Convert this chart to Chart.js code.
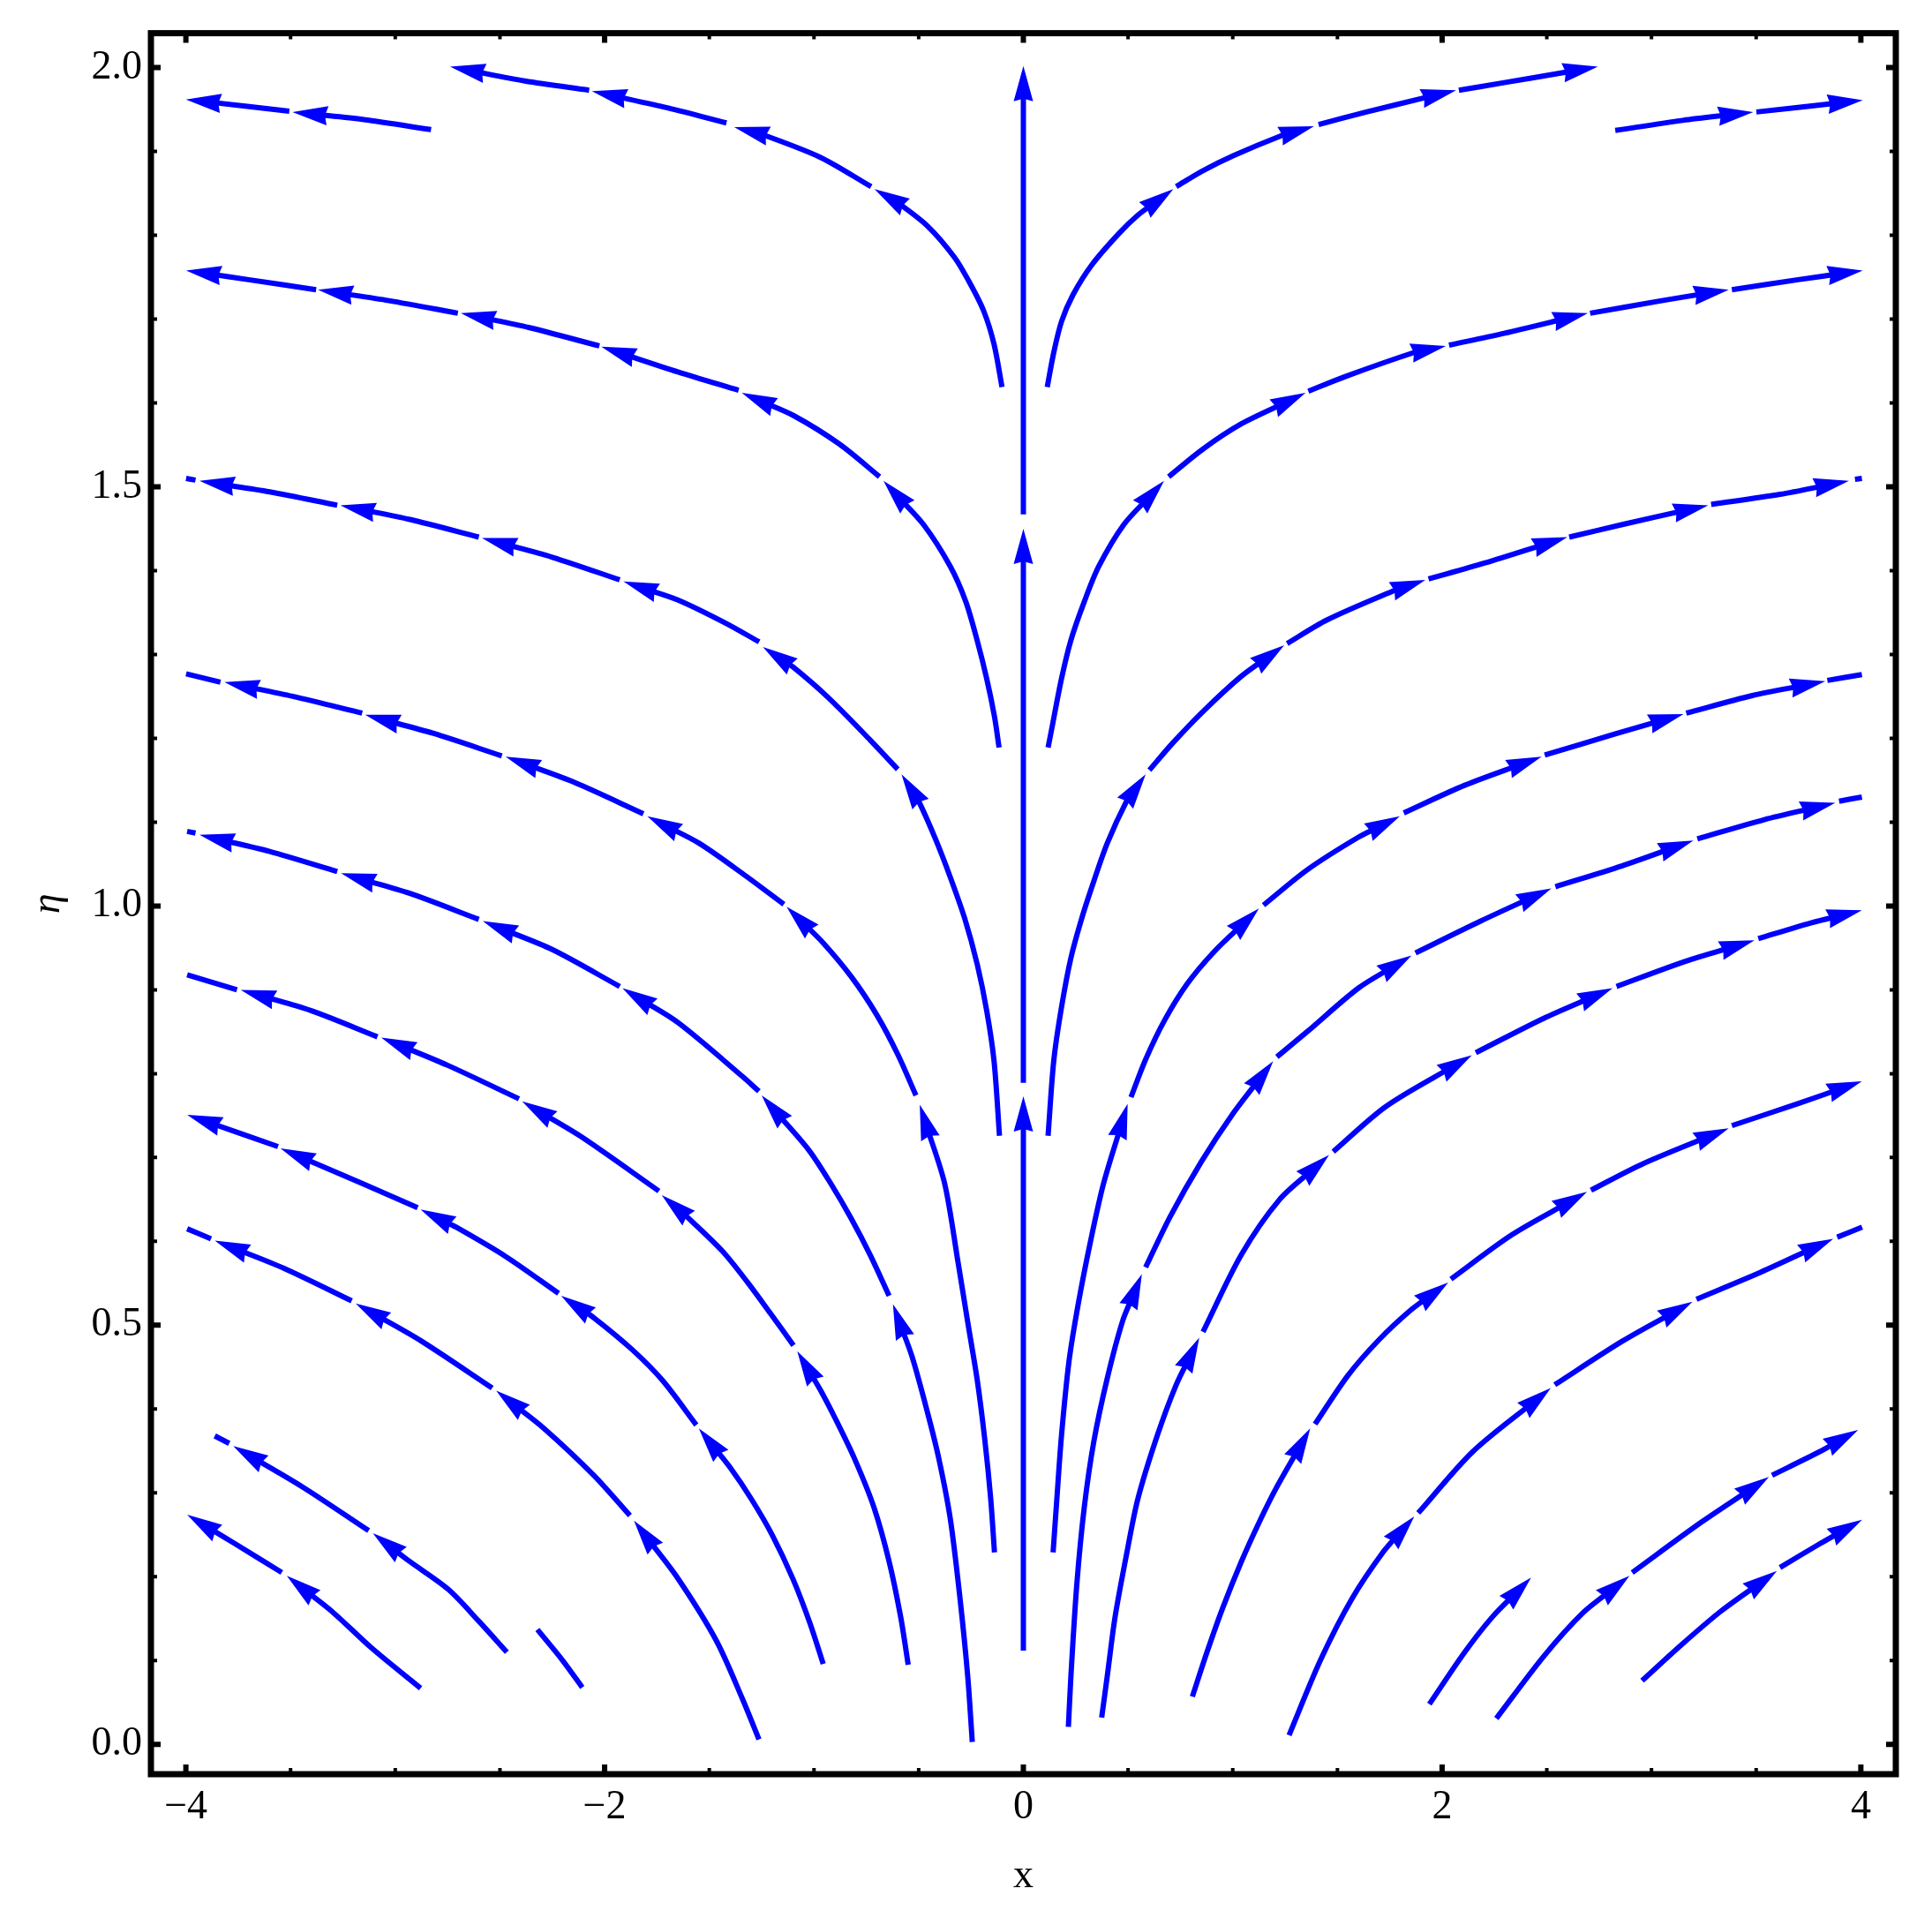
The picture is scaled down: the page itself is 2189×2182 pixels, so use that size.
<!DOCTYPE html>
<html lang="en">
<head>
<meta charset="UTF-8">
<title>Stream plot</title>
<script src="https://cdn.jsdelivr.net/npm/chart.js@4.4.0/dist/chart.umd.min.js"></script>
<style>
  html, body { margin: 0; padding: 0; background: #ffffff; }
  #wrap { width: 2189px; height: 2182px; }
</style>
</head>
<body>
<div id="wrap"><canvas id="grafico"></canvas></div>
<script>
// axis ticks
const xTicks = [-4, -2, 0, 2, 4];
const xTickLabels = ['\u22124', '\u22122', '0', '2', '4'];
const xMinorTicks = [-4, -3.5, -3, -2.5, -2, -1.5, -1, -0.5, 0, 0.5, 1, 1.5, 2, 2.5, 3, 3.5, 4];
const yTicks = [0, 0.5, 1.0, 1.5, 2.0];
const yTickLabels = ['0.0', '0.5', '1.0', '1.5', '2.0'];
const yMinorTicks = [0, 0.1, 0.2, 0.3, 0.4, 0.5, 0.6, 0.7, 0.8, 0.9, 1.0,
                     1.1, 1.2, 1.3, 1.4, 1.5, 1.6, 1.7, 1.8, 1.9, 2.0];

// streamlines as [x, eta] in flow direction.
// every line is split in pieces, a piece ends with an arrowhead
const centerLine = [
  [[0, 0.112], [0, 0.773]],
  [[0, 0.789], [0, 1.450]],
  [[0, 1.467], [0, 2.002]]
];

const rightLines = [
  [[[0.114,1.619],[0.145,1.660],[0.182,1.697],[0.237,1.729],[0.328,1.765],[0.456,1.802],[0.547,1.824],[0.716,1.855]],
   [[0.730,1.858],[0.858,1.877],[1.004,1.895],[1.224,1.918],[1.388,1.930]],
   [[1.410,1.932],[1.638,1.947],[1.901,1.963],[2.067,1.973]],
   [[2.080,1.973],[2.296,1.982],[2.579,1.994],[2.744,2.001]]],
  [[[2.827,1.925],[3.150,1.937],[3.486,1.947]],
   [[3.501,1.947],[4.009,1.961]]],
  [[[0.118,1.189],[0.136,1.212],[0.182,1.271],[0.227,1.317],[0.291,1.363],[0.360,1.405],[0.480,1.455],[0.672,1.507]],
   [[0.694,1.512],[0.858,1.545],[1.041,1.575],[1.348,1.612]],
   [[1.361,1.614],[1.543,1.632],[1.864,1.660],[2.018,1.668]],
   [[2.033,1.669],[2.296,1.683],[2.696,1.707]],
   [[2.707,1.707],[3.049,1.722],[3.369,1.735]],
   [[3.384,1.735],[3.700,1.747],[4.009,1.758]]],
  [[[0.118,0.726],[0.145,0.815],[0.182,0.879],[0.227,0.938],[0.282,0.988],[0.337,1.030],[0.401,1.075],[0.493,1.125],[0.584,1.157]],
   [[0.602,1.162],[0.712,1.194],[0.858,1.232],[1.041,1.274],[1.246,1.311]],
   [[1.260,1.313],[1.449,1.341],[1.769,1.376],[1.920,1.389]],
   [[1.935,1.390],[2.202,1.409],[2.598,1.440]],
   [[2.607,1.440],[2.861,1.455],[3.271,1.478]],
   [[3.285,1.479],[3.614,1.491],[3.943,1.507]],
   [[3.972,1.509],[4.005,1.510]]],
  [[[0.142,0.229],[0.160,0.293],[0.182,0.368],[0.218,0.457],[0.264,0.528],[0.319,0.598],[0.383,0.669],[0.498,0.764]],
   [[0.514,0.772],[0.584,0.817],[0.675,0.864],[0.785,0.908],[0.913,0.946],[1.125,0.997]],
   [[1.147,1.001],[1.355,1.043],[1.600,1.082],[1.798,1.107]],
   [[1.817,1.111],[2.108,1.144],[2.475,1.178]],
   [[2.490,1.180],[2.824,1.205],[3.153,1.229]],
   [[3.166,1.230],[3.482,1.251],[3.830,1.268]],
   [[3.840,1.269],[4.005,1.276]]],
  [[[0.215,0.021],[0.227,0.081],[0.255,0.190],[0.291,0.283],[0.337,0.362],[0.401,0.437],[0.474,0.505],[0.566,0.561]],
   [[0.584,0.569],[0.700,0.629],[0.850,0.695],[1.000,0.752],[1.193,0.815]],
   [[1.211,0.820],[1.355,0.850],[1.600,0.902],[1.854,0.941]],
   [[1.873,0.944],[2.184,0.982],[2.522,1.021]],
   [[2.541,1.023],[2.861,1.048],[3.200,1.078]],
   [[3.219,1.080],[3.539,1.103],[3.878,1.123]],
   [[3.896,1.125],[4.005,1.130]]],
  [[[0.374,0.032],[0.401,0.082],[0.438,0.152],[0.493,0.227],[0.547,0.293],[0.639,0.368],[0.730,0.429],[0.840,0.485]],
   [[0.858,0.492],[1.041,0.584],[1.224,0.650],[1.460,0.703]],
   [[1.480,0.707],[1.732,0.761],[2.142,0.822]],
   [[2.161,0.825],[2.485,0.866],[2.814,0.902]],
   [[2.833,0.904],[3.162,0.934],[3.492,0.959]],
   [[3.510,0.961],[3.765,0.980],[4.005,0.995]]],
  [[[0.807,0.057],[0.877,0.110],[0.951,0.162],[1.041,0.218],[1.132,0.268],[1.206,0.305],[1.370,0.377]],
   [[1.393,0.382],[1.550,0.440],[1.700,0.483],[1.850,0.518],[2.029,0.551]],
   [[2.042,0.555],[2.334,0.608],[2.692,0.659]],
   [[2.711,0.661],[2.955,0.692],[3.369,0.735]],
   [[3.384,0.738],[3.708,0.765],[4.005,0.791]]],
  [[[1.269,0.011],[1.420,0.101],[1.570,0.174],[1.720,0.230],[1.867,0.272]],
   [[1.886,0.276],[2.146,0.349],[2.519,0.425]],
   [[2.538,0.429],[2.861,0.481],[3.196,0.528]],
   [[3.215,0.531],[3.520,0.563],[3.868,0.603]],
   [[3.887,0.605],[4.006,0.617]]],
  [[[1.939,0.048],[2.108,0.110],[2.240,0.152],[2.425,0.199]]],
  [[[2.259,0.031],[2.485,0.105],[2.673,0.157],[2.895,0.201]],
   [[2.908,0.205],[3.238,0.265],[3.561,0.319]],
   [[3.576,0.321],[3.802,0.349],[3.987,0.375]]],
  [[[2.955,0.076],[3.144,0.119],[3.332,0.159],[3.599,0.207]],
   [[3.614,0.211],[3.802,0.239],[4.006,0.268]]]
];
// false = last piece is a plain dash, no arrowhead
const rightLastArrow = [true, true, true, false, false, false, true, true, false, true, true, true];

const leftLines = [
  [[[-0.102,1.619],[-0.140,1.670],[-0.190,1.710],[-0.260,1.745],[-0.330,1.774],[-0.458,1.811],[-0.595,1.838],[-0.711,1.855]],
   [[-0.727,1.858],[-0.970,1.893],[-1.244,1.920],[-1.381,1.929]],
   [[-1.418,1.934],[-1.700,1.952],[-2.061,1.972]],
   [[-2.074,1.973],[-2.381,1.984],[-2.738,2.001]]],
  [[[-2.829,1.926],[-3.150,1.938],[-3.491,1.947]],
   [[-3.506,1.948],[-4.000,1.962]]],
  [[[-0.116,1.189],[-0.138,1.226],[-0.175,1.271],[-0.221,1.317],[-0.275,1.363],[-0.349,1.405],[-0.477,1.455],[-0.668,1.507]],
   [[-0.687,1.512],[-0.879,1.551],[-1.098,1.585],[-1.345,1.612]],
   [[-1.360,1.615],[-1.650,1.637],[-2.016,1.667]],
   [[-2.025,1.668],[-2.363,1.690],[-2.687,1.707]],
   [[-2.701,1.707],[-3.030,1.722],[-3.369,1.735]],
   [[-3.378,1.735],[-3.700,1.747],[-3.999,1.758]]],
  [[[-0.114,0.726],[-0.140,0.815],[-0.175,0.875],[-0.220,0.930],[-0.280,0.985],[-0.350,1.035],[-0.420,1.080],[-0.500,1.125],[-0.582,1.157]],
   [[-0.600,1.163],[-0.732,1.198],[-0.934,1.249],[-1.100,1.285],[-1.244,1.309]],
   [[-1.262,1.315],[-1.427,1.338],[-1.650,1.365],[-1.910,1.387]],
   [[-1.928,1.389],[-2.250,1.416],[-2.586,1.439]],
   [[-2.601,1.440],[-2.930,1.461],[-3.262,1.478]],
   [[-3.277,1.478],[-3.600,1.494],[-3.935,1.507]],
   [[-3.954,1.508],[-3.999,1.510]]],
  [[[-0.138,0.229],[-0.156,0.293],[-0.184,0.363],[-0.220,0.434],[-0.266,0.504],[-0.312,0.575],[-0.376,0.669],[-0.495,0.763]],
   [[-0.513,0.774],[-0.600,0.823],[-0.700,0.870],[-0.820,0.915],[-0.960,0.957],[-1.131,0.999]],
   [[-1.144,1.002],[-1.343,1.039],[-1.550,1.075],[-1.796,1.107]],
   [[-1.815,1.110],[-2.150,1.148],[-2.473,1.178]],
   [[-2.491,1.179],[-2.820,1.206],[-3.144,1.228]],
   [[-3.158,1.230],[-3.490,1.250],[-3.816,1.267]],
   [[-3.835,1.267],[-3.999,1.277]]],
  [[[-0.244,0.003],[-0.266,0.082],[-0.303,0.175],[-0.349,0.269],[-0.403,0.340],[-0.458,0.396],[-0.531,0.462],[-0.623,0.525]],
   [[-0.641,0.535],[-0.732,0.584],[-0.824,0.628],[-0.915,0.667],[-1.025,0.709],[-1.250,0.774]],
   [[-1.263,0.779],[-1.343,0.797],[-1.650,0.861],[-1.915,0.902]],
   [[-1.928,0.904],[-2.250,0.948],[-2.582,0.982]],
   [[-2.601,0.984],[-2.930,1.015],[-3.259,1.039]],
   [[-3.277,1.041],[-3.600,1.065],[-3.935,1.085]],
   [[-3.954,1.087],[-3.994,1.089]]],
  [[[-0.550,0.095],[-0.586,0.152],[-0.641,0.218],[-0.714,0.283],[-0.805,0.340],[-0.897,0.388],[-0.970,0.423],[-1.080,0.469]],
   [[-1.098,0.476],[-1.208,0.514],[-1.317,0.551],[-1.440,0.589],[-1.614,0.631],[-1.727,0.655]],
   [[-1.741,0.660],[-2.107,0.724],[-2.394,0.767]],
   [[-2.409,0.770],[-2.750,0.810],[-3.067,0.843]],
   [[-3.085,0.844],[-3.400,0.875],[-3.738,0.900]],
   [[-3.756,0.900],[-3.994,0.918]]],
  [[[-0.956,0.096],[-1.020,0.145],[-1.100,0.197],[-1.200,0.250],[-1.300,0.293],[-1.400,0.330],[-1.550,0.377]],
   [[-1.562,0.381],[-1.723,0.434],[-1.869,0.471],[-2.052,0.509],[-2.208,0.535]],
   [[-2.220,0.538],[-2.473,0.582],[-2.710,0.617],[-2.879,0.638]],
   [[-2.893,0.640],[-3.158,0.669],[-3.548,0.711]],
   [[-3.560,0.713],[-3.994,0.751]]],
  [[[-1.263,0.006],[-1.343,0.055],[-1.467,0.124],[-1.650,0.198],[-1.860,0.267]],
   [[-1.879,0.273],[-2.052,0.321],[-2.290,0.377],[-2.518,0.422]],
   [[-2.537,0.425],[-2.875,0.481],[-3.189,0.526]],
   [[-3.208,0.529],[-3.533,0.568],[-3.862,0.601]],
   [[-3.880,0.603],[-3.994,0.615]]],
  [[[-2.107,0.068],[-2.200,0.100],[-2.321,0.137]]],
  [[[-2.467,0.110],[-2.601,0.147],[-2.747,0.185],[-2.930,0.218],[-3.107,0.252]],
   [[-3.127,0.255],[-3.442,0.307],[-3.774,0.356]],
   [[-3.793,0.359],[-3.862,0.368]]],
  [[[-2.879,0.067],[-3.113,0.115],[-3.295,0.157],[-3.518,0.201]],
   [[-3.542,0.205],[-3.770,0.240],[-3.994,0.274]]]
];
const leftLastArrow = [true, true, true, false, false, false, false, true, false, false, false, true];

const BLUE = '#0000ff';
const datasets = [];

function addLine(pieces, lastArrow) {
  pieces.forEach((piece, k) => {
    datasets.push({
      data: piece.map(p => ({ x: p[0], y: p[1] })),
      arrow: k < pieces.length - 1 || lastArrow,
      borderColor: BLUE,
      borderWidth: 6,
      pointRadius: 0,
      tension: 0.3,
      fill: false
    });
  });
}

addLine(centerLine, true);
rightLines.forEach((l, i) => addLine(l, rightLastArrow[i]));
leftLines.forEach((l, i) => addLine(l, leftLastArrow[i]));

// arrowheads at the end of each piece, the line is pulled back under the head
const arrowHeads = {
  id: 'arrowHeads',
  afterDatasetsUpdate(chart) {
    chart.$tips = [];
    chart.data.datasets.forEach((ds, i) => {
      if (!ds.arrow) return;
      const pts = chart.getDatasetMeta(i).data;
      const p = pts[pts.length - 1];
      const q = pts[pts.length - 2];
      const dx = p.x - q.x, dy = p.y - q.y;
      const len = Math.hypot(dx, dy);
      const ux = dx / len, uy = dy / len;
      chart.$tips.push({ x: p.x, y: p.y, ux: ux, uy: uy });
      p.x -= ux * 22;
      p.y -= uy * 22;
    });
  },
  afterDatasetsDraw(chart) {
    const ctx = chart.ctx;
    const L = 40, W = 11, N = 37;
    ctx.save();
    ctx.fillStyle = BLUE;
    (chart.$tips || []).forEach(t => {
      const bx = t.x - t.ux * L, by = t.y - t.uy * L;
      const nx = -t.uy, ny = t.ux;
      ctx.beginPath();
      ctx.moveTo(t.x, t.y);
      ctx.lineTo(bx + nx * W, by + ny * W);
      ctx.lineTo(t.x - t.ux * N, t.y - t.uy * N);
      ctx.lineTo(bx - nx * W, by - ny * W);
      ctx.closePath();
      ctx.fill();
    });
    ctx.restore();
  }
};

// thick frame with inward ticks on all four sides
const frame = {
  id: 'frame',
  afterDraw(chart) {
    const { ctx, chartArea: a, scales: { x, y } } = chart;
    ctx.save();
    ctx.strokeStyle = '#000000';
    ctx.lineWidth = 7;
    ctx.strokeRect(a.left, a.top, a.right - a.left, a.bottom - a.top);
    xMinorTicks.forEach(v => {
      const px = x.getPixelForValue(v);
      const major = xTicks.includes(v);
      const len = major ? 11 : 7;
      ctx.lineWidth = major ? 6 : 4;
      ctx.beginPath();
      ctx.moveTo(px, a.bottom); ctx.lineTo(px, a.bottom - len);
      ctx.moveTo(px, a.top); ctx.lineTo(px, a.top + len);
      ctx.stroke();
    });
    yMinorTicks.forEach(v => {
      const py = y.getPixelForValue(v);
      const major = yTicks.includes(v);
      const len = major ? 11 : 7;
      ctx.lineWidth = major ? 6 : 4;
      ctx.beginPath();
      ctx.moveTo(a.left, py); ctx.lineTo(a.left + len, py);
      ctx.moveTo(a.right, py); ctx.lineTo(a.right - len, py);
      ctx.stroke();
    });
    ctx.restore();
  }
};

const serif = 'Liberation Serif, Times New Roman, serif';

new Chart(document.getElementById('grafico'), {
  type: 'line',
  data: { datasets: datasets },
  options: {
    responsive: true,
    maintainAspectRatio: false,
    animation: false,
    events: [],
    layout: { padding: { top: 34, right: 41, left: 0, bottom: 0 } },
    plugins: { legend: { display: false }, tooltip: { enabled: false } },
    scales: {
      x: {
        type: 'linear',
        min: -4.167,
        max: 4.167,
        afterBuildTicks: s => { s.ticks = xTicks.map(v => ({ value: v })); },
        afterFit: s => { s.height = 172; },
        grid: { display: false, drawTicks: false },
        border: { display: false },
        ticks: {
          callback: (v, i) => xTickLabels[i],
          color: '#000000',
          font: { family: serif, size: 46 },
          padding: 10,
          maxRotation: 0,
          autoSkip: false
        },
        title: {
          display: true,
          text: 'x',
          color: '#000000',
          font: { family: serif, size: 46 },
          padding: { top: 0, bottom: 28 }
        }
      },
      y: {
        type: 'linear',
        min: -0.0355,
        max: 2.041,
        afterBuildTicks: s => { s.ticks = yTicks.map(v => ({ value: v })); },
        afterFit: s => { s.width = 171; },
        grid: { display: false, drawTicks: false },
        border: { display: false },
        ticks: {
          callback: (v, i) => yTickLabels[i],
          color: '#000000',
          font: { family: serif, size: 46 },
          padding: 10,
          autoSkip: false
        },
        title: {
          display: true,
          text: '\u03b7',
          color: '#000000',
          font: { family: serif, size: 46, style: 'italic' },
          padding: { top: 27, bottom: 0 }
        }
      }
    }
  },
  plugins: [arrowHeads, frame]
});
</script>
</body>
</html>
